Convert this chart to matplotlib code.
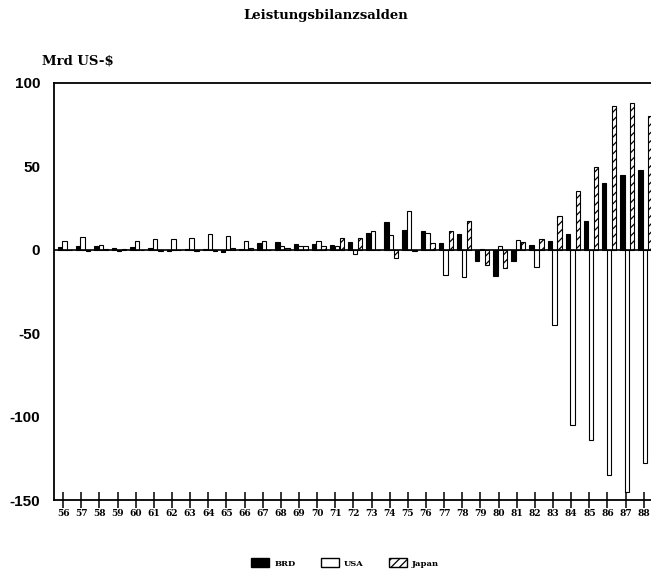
import numpy as np
import matplotlib
matplotlib.use('Agg')
import matplotlib.pyplot as plt
from matplotlib.patches import Patch

# Leistungsbilanzsalden, Mrd US-$
years = list(range(56, 89))
brd = [1.5, 2, 2, 1, 1.5, 1, -0.5, 0.5, 0.5, -1.5, 0.5, 4, 4.5, 3.5, 3.5, 3,
       4.5, 10, 16.5, 12, 11, 4, 9.5, -6.5, -16, -6.5, 3, 5.5, 9.5, 17, 40, 45, 48]
usa = [5, 7.5, 3, -1, 5, 6.5, 6.5, 7, 9.5, 8, 5.5, 5, 2.5, 2, 5, 2,
       -2.5, 11, 9, 23, 10, -15, -16.5, 0.3, 2, 6, -10.5, -45, -105, -114, -135, -145, -128]
japan = [0, -0.6, 0.5, 0.5, 0, -1, 0, -0.8, -0.5, 1, 1.3, -0.2, 1, 2, 2, 7,
         7, 0, -5, -0.7, 4, 11, 17.5, -9, -11, 4.5, 6.5, 20.5, 35, 49.5, 86, 88, 80]
y_ticks = [100, 50, 0, -50, -100, -150]

plt.rcParams['hatch.linewidth'] = 0.9

fig = plt.figure(figsize=(6.51, 5.73), dpi=100)
ax = fig.add_axes([54 / 651, 1 - 500 / 573, 1 - 54 / 651 + 0.002, (500 - 83) / 573])

x = np.array(years, dtype=float)
w = 0.24
ax.bar(x - 0.18, brd, w, color='black', edgecolor='black', linewidth=0.8)
ax.bar(x + 0.08, usa, w, color='white', edgecolor='black', linewidth=0.8)
ax.bar(x + 0.36, japan, w, color='white', edgecolor='black', linewidth=0.8, hatch='////')

ax.axhline(0, color='black', linewidth=1.2)
ax.set_xlim(55.5, 88.47)
ax.set_ylim(-150, 100)

ax.set_yticks(y_ticks)
ax.set_yticklabels([str(v) for v in y_ticks], fontsize=11, fontweight='bold',
                   family='Liberation Sans')
ax.tick_params(axis='y', length=0, pad=10)

ax.set_xticks(years)
ax.set_xticklabels([str(v) for v in years], fontsize=6.5, fontweight='bold',
                   family='DejaVu Serif')
ax.tick_params(axis='x', direction='inout', length=11, width=1.1, pad=1)

for s in ['left', 'bottom', 'top']:
    ax.spines[s].set_linewidth(1.3)
ax.spines['right'].set_visible(False)

fig.text(0.5, 1 - 16 / 573, 'Leistungsbilanzsalden', ha='center', va='center',
         fontsize=9.5, fontweight='bold', family='DejaVu Serif')
fig.text(42 / 651, 1 - 61 / 573, 'Mrd US-$', ha='left', va='center',
         fontsize=9.5, fontweight='bold', family='DejaVu Serif')

handles = [Patch(facecolor='black', edgecolor='black'),
           Patch(facecolor='white', edgecolor='black'),
           Patch(facecolor='white', edgecolor='black', hatch='////')]
fig.legend(handles, ['BRD', 'USA', 'Japan'], loc='center', ncol=3,
           bbox_to_anchor=(0.53, 1 - 563 / 573), frameon=False,
           prop={'family': 'DejaVu Serif', 'weight': 'bold', 'size': 6},
           handlelength=2.2, handleheight=1.2, columnspacing=3, handletextpad=0.6)

fig.savefig('out.png', dpi=100)
